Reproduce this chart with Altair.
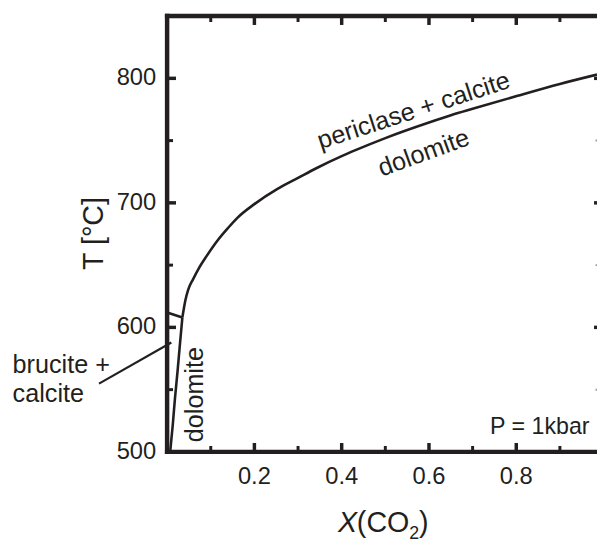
import altair as alt
import pandas as pd

INK = "#231f20"
FONT = "Liberation Sans"
W, H = 435, 441
XDOM = [0.0, 0.985]
YDOM = [500, 850]

# lower (steep) branch of the boundary: dolomite = brucite + calcite
low_x = [0.007, 0.013, 0.018, 0.024, 0.029, 0.035]
low_T = [500, 522, 543, 565, 585, 608]
# upper branch: dolomite = periclase + calcite
up_x = [0.035, 0.042, 0.048, 0.060, 0.072, 0.090, 0.116, 0.140, 0.161, 0.200,
        0.252, 0.300, 0.343, 0.400, 0.433, 0.500, 0.600, 0.652, 0.700, 0.803,
        0.900, 0.985]
up_T = [608, 622, 630, 639, 647, 657, 670, 680, 688, 699,
        711, 720, 728, 737.5, 742.5, 752, 764.5, 770.5, 775.5, 786,
        795.5, 803]
# brucite = periclase line
bp_x = [0.0, 0.035]
bp_T = [612, 608]
# pointer line for the "brucite + calcite" label
ptr_x = [-0.156, 0.0097]
ptr_T = [554.8, 587.9]

x_major = [0.2, 0.4, 0.6, 0.8]
x_minor = [0.1, 0.3, 0.5, 0.7, 0.9]
y_labels = [500, 600, 700, 800]
y_major = [600, 700, 800]
y_minor = [550, 650, 750]

xs = alt.Scale(domain=XDOM, nice=False, zero=False)
ys = alt.Scale(domain=YDOM, nice=False, zero=False)
PX_X = (XDOM[1] - XDOM[0]) / W      # data units per pixel, x
PX_T = (YDOM[1] - YDOM[0]) / H      # data units per pixel, T


def XF(field="x:Q"):
    return alt.X(field, scale=xs, axis=None)


def YF(field="T:Q"):
    return alt.Y(field, scale=ys, axis=None)


def seg_df(xv, tv, name):
    return pd.DataFrame({"x": xv, "T": tv, "seg": name, "i": range(len(xv))})


curves = pd.concat([
    seg_df(low_x, low_T, "low"),
    seg_df(up_x, up_T, "up"),
    seg_df(bp_x, bp_T, "bp"),
])

base_curve = alt.Chart(curves).mark_line(
    color=INK, strokeWidth=2.6, interpolate="monotone"
).encode(x=XF(), y=YF(), detail="seg:N", order="i:Q")

pointer = alt.Chart(seg_df(ptr_x, ptr_T, "ptr")).mark_line(
    color=INK, strokeWidth=2.2
).encode(x=XF(), y=YF(), order="i:Q")

# frame: left, bottom and top spines (the right one lies beyond the picture)
x_end = XDOM[1] + 6 * PX_X
spines = pd.concat([
    seg_df([XDOM[0], XDOM[0]], [YDOM[0], YDOM[1]], "left"),
    seg_df([XDOM[0], x_end], [YDOM[0], YDOM[0]], "bottom"),
    seg_df([XDOM[0], x_end], [YDOM[1], YDOM[1]], "top"),
])
frame = alt.Chart(spines).mark_line(
    color=INK, strokeWidth=4.5, strokeCap="square"
).encode(x=XF(), y=YF(), detail="seg:N", order="i:Q")

# inward tick marks drawn as small filled rectangles, from the tick value lists
rows = []
for v in x_major:
    rows.append((v - 1.75 * PX_X, v + 1.75 * PX_X, YDOM[0], YDOM[0] + 9 * PX_T, INK))
    rows.append((v - 1.75 * PX_X, v + 1.75 * PX_X, YDOM[1] - 9 * PX_T, YDOM[1], INK))
for v in x_minor:
    rows.append((v - 1.5 * PX_X, v + 1.5 * PX_X, YDOM[0], YDOM[0] + 6 * PX_T, INK))
    rows.append((v - 1.5 * PX_X, v + 1.5 * PX_X, YDOM[1] - 6 * PX_T, YDOM[1], INK))
for v in y_major:
    rows.append((XDOM[0], XDOM[0] + 9 * PX_X, v - 1.75 * PX_T, v + 1.75 * PX_T, INK))
    rows.append((XDOM[1] - 3 * PX_X, XDOM[1], v - 1.75 * PX_T, v + 1.75 * PX_T, INK))
for v in y_minor:
    rows.append((XDOM[0], XDOM[0] + 6 * PX_X, v - 1.5 * PX_T, v + 1.5 * PX_T, INK))
    rows.append((XDOM[1] - 1.5 * PX_X, XDOM[1], v - 1.0 * PX_T, v + 1.0 * PX_T, "#9a9a9a"))
tick_df = pd.DataFrame(rows, columns=["x", "x2", "T", "T2", "c"])

ticks = alt.Chart(tick_df).mark_rect().encode(
    x=XF(), x2="x2:Q", y=YF(), y2="T2:Q",
    color=alt.Color("c:N", scale=None, legend=None),
)

# tick labels
xlab = alt.Chart(pd.DataFrame({"x": x_major, "t": [f"{v:.1f}" for v in x_major]})).mark_text(
    font=FONT, fontSize=24, color=INK, align="center", baseline="top"
).encode(x=XF(), y=alt.value(H + 13), text="t:N")

ylab = alt.Chart(pd.DataFrame({"T": y_labels, "t": [str(v) for v in y_labels]})).mark_text(
    font=FONT, fontSize=24, color=INK, align="right", baseline="middle"
).encode(y=YF(), x=alt.value(-11), text="t:N")


def label(text, x, T, size=25.5, angle=0, align="left", baseline="alphabetic"):
    return alt.Chart(pd.DataFrame({"x": [x], "T": [T], "t": [text]})).mark_text(
        font=FONT, fontSize=size, color=INK, angle=angle, align=align,
        baseline=baseline
    ).encode(x=XF(), y=YF(), text="t:N")


ann_text = ["brucite +", "calcite", "dolomite", "periclase + calcite", "dolomite", "P = 1kbar"]
ann_x = [-0.354, -0.354, 0.0634, 0.565, 0.588, 0.968]
ann_T = [563.5, 539.7, 546, 774, 740, 514.3]

labels = [
    label(ann_text[0], ann_x[0], ann_T[0]),
    label(ann_text[1], ann_x[1], ann_T[1]),
    label(ann_text[2], ann_x[2], ann_T[2], angle=270, align="center", baseline="middle"),
    label(ann_text[3], ann_x[3], ann_T[3], angle=342, align="center", baseline="middle"),
    label(ann_text[4], ann_x[4], ann_T[4], angle=340, align="center", baseline="middle"),
    label(ann_text[5], ann_x[5], ann_T[5], size=23.5, align="right"),
]


def px_text(text, x, y, size, style="normal", angle=0, align="left"):
    return alt.Chart(pd.DataFrame({"t": [text]})).mark_text(
        font=FONT, fontSize=size, color=INK, fontStyle=style, angle=angle,
        align=align, baseline="alphabetic"
    ).encode(x=alt.value(x), y=alt.value(y), text="t:N")


titles = [
    px_text("X", 173, 522, 29, style="italic"),
    px_text("(CO", 192, 522, 29),
    px_text("2", 245, 529, 18),
    px_text(")", 255, 522, 29),
    px_text("T [°C]", -65, 220, 29, angle=270, align="center"),
]

chart = alt.layer(
    base_curve, pointer, frame, ticks, xlab, ylab, *labels, *titles
).properties(
    width=W, height=H,
    padding={"left": 161, "top": 5, "right": 0, "bottom": 88},
    autosize=alt.AutoSizeParams(type="none"),
    background="white",
).configure_view(stroke=None)

chart.save("out.html", embed_options={"renderer": "svg", "actions": False})
